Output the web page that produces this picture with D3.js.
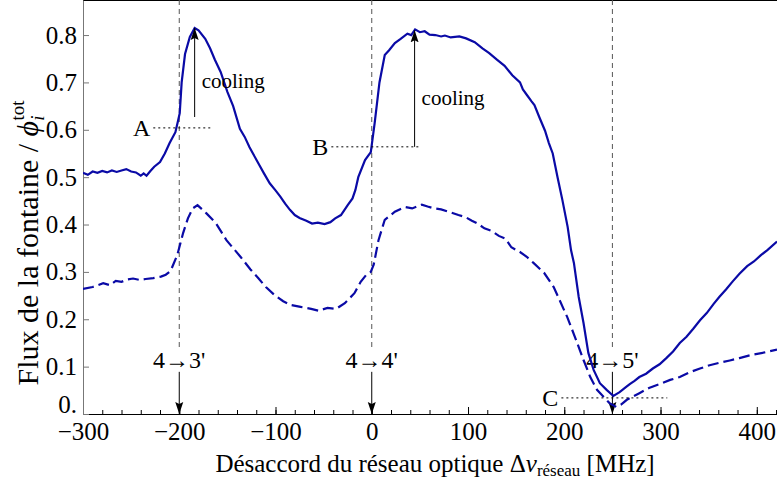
<!DOCTYPE html>
<html>
<head>
<meta charset="utf-8">
<script src="https://cdn.jsdelivr.net/npm/d3@7"></script>
<style>
body {margin:0; background:#fff}
text {font-family:"Liberation Serif","Times New Roman",serif; fill:#000}
</style>
</head>
<body>
<svg id="chart" width="777" height="485"></svg>
<script>
// detuning (MHz) and fountain flux, solid = with cooling, dashed = without
var solidFreq = [-300,-295,-290,-285,-280,-275,-270,-265,-260,-255,-250,-245,-240,-237,-234,-230,-226,-220,-215,-210,
	-204,-201.5,-199.5,-197.5,-194,-189,-184,-180,-173,-168,-163,-157,-150,-144,-137,-132,-127,-118,-112,-106,
	-100,-95,-90,-85,-80,-75,-68,-62,-56,-49,-43,-38,-32,-25,-20,-17,-14,-7,-1,3,
	8,13.5,18,24,30,37,41,45,50,55,60,66,72,76,82,91,98,107,115,122,
	130,138,146,154,157,161,166,169,174,180,184,188,193,198,203.5,207,210,215,220,225,
	230.5,237,244,251,257.5,263,268,273,278,285,292,299,306,313,320,327,334,341,348,355,
	361,368,375,382,390,397,404,411,421];
var solidFlux = [0.509,0.505,0.512,0.509,0.513,0.510,0.514,0.511,0.514,0.517,0.512,0.510,0.503,0.508,0.503,0.513,0.522,0.532,0.550,0.572,
	0.595,0.617,0.635,0.700,0.760,0.796,0.815,0.810,0.792,0.772,0.748,0.722,0.680,0.650,0.602,0.585,0.563,0.530,0.508,0.487,
	0.472,0.459,0.444,0.431,0.420,0.414,0.408,0.402,0.404,0.401,0.405,0.413,0.420,0.441,0.455,0.473,0.500,0.536,0.553,0.614,
	0.700,0.758,0.768,0.783,0.792,0.803,0.800,0.812,0.806,0.808,0.801,0.800,0.797,0.799,0.795,0.797,0.793,0.785,0.772,0.762,
	0.748,0.735,0.715,0.700,0.685,0.674,0.660,0.652,0.627,0.598,0.572,0.550,0.500,0.452,0.395,0.346,0.319,0.247,0.192,0.129,
	0.093,0.065,0.051,0.038,0.046,0.055,0.063,0.070,0.078,0.085,0.096,0.105,0.118,0.132,0.150,0.163,0.180,0.198,0.213,0.232,
	0.247,0.263,0.280,0.296,0.312,0.322,0.335,0.346,0.364];

var dashedFreq = [-300,-290,-279,-272,-266,-260,-254,-248,-241,-235,-227,-219,-214,-209,-202,-196,-191,-186,-181,-172,
	-162,-151,-136,-126,-118,-110,-101,-92,-84,-74,-63,-55,-46,-37,-28,-18,-11.5,-6,-1,2,
	7,13.5,24,30,34.5,42,52,58,65,72,80,90,97,104,110,117,125,132,139,145,
	154,161,168,179,189,195,203,211,220,227,234,241,247,254,259,265,278,288,299,310,
	320,330,341,351,361,372,382,395,408,421];
var dashedFlux = [0.264,0.268,0.276,0.272,0.281,0.279,0.284,0.286,0.283,0.285,0.287,0.290,0.294,0.302,0.336,0.382,0.413,0.434,0.441,0.424,
	0.403,0.367,0.331,0.305,0.287,0.268,0.251,0.238,0.230,0.226,0.222,0.218,0.224,0.222,0.234,0.255,0.279,0.293,0.300,0.315,
	0.367,0.410,0.427,0.433,0.437,0.434,0.442,0.438,0.434,0.432,0.427,0.420,0.416,0.408,0.402,0.392,0.386,0.376,0.370,0.352,
	0.342,0.332,0.319,0.298,0.268,0.241,0.205,0.163,0.114,0.078,0.051,0.036,0.023,0.015,0.020,0.030,0.044,0.055,0.063,0.072,
	0.078,0.088,0.096,0.103,0.108,0.113,0.118,0.125,0.130,0.136];

var xTicks = [-300,-200,-100,0,100,200,300,400];
var yTicks = [0,0.1,0.2,0.3,0.4,0.5,0.6,0.7,0.8];

// hyperfine transitions
var transFreq = [-200,0,250];
var transLabels = ["4\u21923'","4\u21924'","4\u21925'"];

// points A, B, C with their dotted guide (from, to) and cooling arrows
var pointNames = ["A","B","C"];
var pointFlux = [0.604,0.564,0.034];
var guideFrom = [-227,-42,197];
var guideTo = [-166,50,307];
var coolFreq = [-184,44.5];
var coolFrom = [0.627,0.564];
var coolTo = [0.815,0.81];

var svg = d3.select("#chart");
var blue = "#0a0aa6";
var serif = "'Liberation Serif','Times New Roman',serif";

var x = d3.scaleLinear().domain([-300,421]).range([83,777]);
var y = d3.scaleLinear().domain([0,0.874]).range([414,0]);

svg.append("defs").append("clipPath").attr("id","plot")
	.append("rect").attr("x",83).attr("y",0).attr("width",694).attr("height",414);

svg.append("defs").append("marker")
	.attr("id","head")
	.attr("viewBox","-12 -5 14 10")
	.attr("markerUnits","userSpaceOnUse")
	.attr("markerWidth",14).attr("markerHeight",10)
	.attr("refX",0).attr("refY",0)
	.attr("orient","auto")
	.append("path")
	.attr("d","M 0 0 L -12 -4 L -10 0 L -12 4 z")
	.attr("fill","#000");

// frame top
svg.append("line").attr("x1",83).attr("x2",777).attr("y1",0.5).attr("y2",0.5)
	.attr("stroke","#000").attr("stroke-width",1.2);

// x axis: minor then major ticks
svg.append("g").attr("transform","translate(0,414)")
	.call(d3.axisBottom(x).tickValues(d3.range(-300,421,20)).tickSizeInner(-4).tickSizeOuter(0).tickFormat(""))
	.call(g => g.select(".domain").remove());

var xAxis = svg.append("g").attr("transform","translate(0,414)")
	.call(d3.axisBottom(x).tickValues(xTicks).tickSizeInner(-7).tickSizeOuter(0).tickPadding(8).tickFormat(d3.format("d")));
xAxis.attr("font-family",serif).attr("font-size",25);
xAxis.select(".domain").attr("stroke","#000").attr("stroke-width",1.2);

var yAxis = svg.append("g").attr("transform","translate(83,0)")
	.call(d3.axisLeft(y).tickValues(yTicks).tickSizeInner(-6).tickSizeOuter(0).tickPadding(6)
		.tickFormat(d => d == 0 ? "0." : d3.format(".1f")(d)));
yAxis.attr("font-family",serif).attr("font-size",25);
yAxis.select(".domain").attr("stroke","#777");
yAxis.selectAll(".tick line").attr("stroke","#777");
yAxis.selectAll(".tick text").filter(d => d == 0).attr("dy","-0.05em");

// transition markers
transFreq.forEach(function(f,i){
	svg.append("line")
		.attr("x1",x(f)).attr("x2",x(f))
		.attr("y1",0).attr("y2",y(0.14))
		.attr("stroke","#555").attr("stroke-width",1)
		.attr("stroke-dasharray","5,4");
	svg.append("text")
		.attr("x",x(f)).attr("y",y(0.1)+1)
		.attr("text-anchor","middle")
		.style("font-size","24px")
		.text(transLabels[i]);
	svg.append("line")
		.attr("x1",x(f)).attr("x2",x(f))
		.attr("y1",y(0.089)).attr("y2",y(0))
		.attr("stroke","#000").attr("stroke-width",1)
		.attr("marker-end","url(#head)");
});

var line = d3.line().x(d => x(d[0])).y(d => y(d[1]));

svg.append("path")
	.datum(d3.zip(dashedFreq,dashedFlux))
	.attr("clip-path","url(#plot)")
	.attr("d",line)
	.attr("fill","none")
	.attr("stroke",blue).attr("stroke-width",2.2)
	.attr("stroke-dasharray","11,5");

svg.append("path")
	.datum(d3.zip(solidFreq,solidFlux))
	.attr("clip-path","url(#plot)")
	.attr("d",line)
	.attr("fill","none")
	.attr("stroke",blue).attr("stroke-width",2.2);

// A B C guides
pointNames.forEach(function(n,i){
	svg.append("line")
		.attr("x1",x(guideFrom[i])).attr("x2",x(guideTo[i]))
		.attr("y1",y(pointFlux[i])).attr("y2",y(pointFlux[i]))
		.attr("stroke","#000").attr("stroke-width",1)
		.attr("stroke-dasharray","2,3");
	svg.append("text")
		.attr("x",x(guideFrom[i])-3).attr("y",y(pointFlux[i])+8)
		.attr("text-anchor","end")
		.style("font-size","24px")
		.text(n);
});

// cooling arrows
coolFreq.forEach(function(f,i){
	svg.append("line")
		.attr("x1",x(f)).attr("x2",x(f))
		.attr("y1",y(coolFrom[i])).attr("y2",y(coolTo[i]))
		.attr("stroke","#000").attr("stroke-width",1)
		.attr("marker-end","url(#head)");
	svg.append("text")
		.attr("x",x(f)+7).attr("y",(y(coolFrom[i])+y(coolTo[i]))/2+16)
		.style("font-size","21px")
		.text("cooling");
});

// axis titles
var xt = svg.append("text")
	.attr("x",435).attr("y",472)
	.attr("text-anchor","middle")
	.style("font-size","25px");
xt.append("tspan").text("Désaccord du réseau optique \u0394");
xt.append("tspan").style("font-style","italic").text("\u03bd");
xt.append("tspan").attr("dy",4).style("font-size","17px").text("réseau");
xt.append("tspan").attr("dy",-4).text(" [MHz]");

var yt = svg.append("text")
	.attr("transform","translate(38,243) rotate(-90)")
	.attr("text-anchor","middle")
	.style("font-size","30px");
yt.append("tspan").text("Flux de la fontaine / ");
yt.append("tspan").style("font-style","italic").text("\u03d5");
yt.append("tspan").attr("dy",6).style("font-size","19px").style("font-style","italic").text("i");
yt.append("tspan").attr("dx",-5).attr("dy",-20).style("font-size","19px").text("tot");
</script>
</body>
</html>
